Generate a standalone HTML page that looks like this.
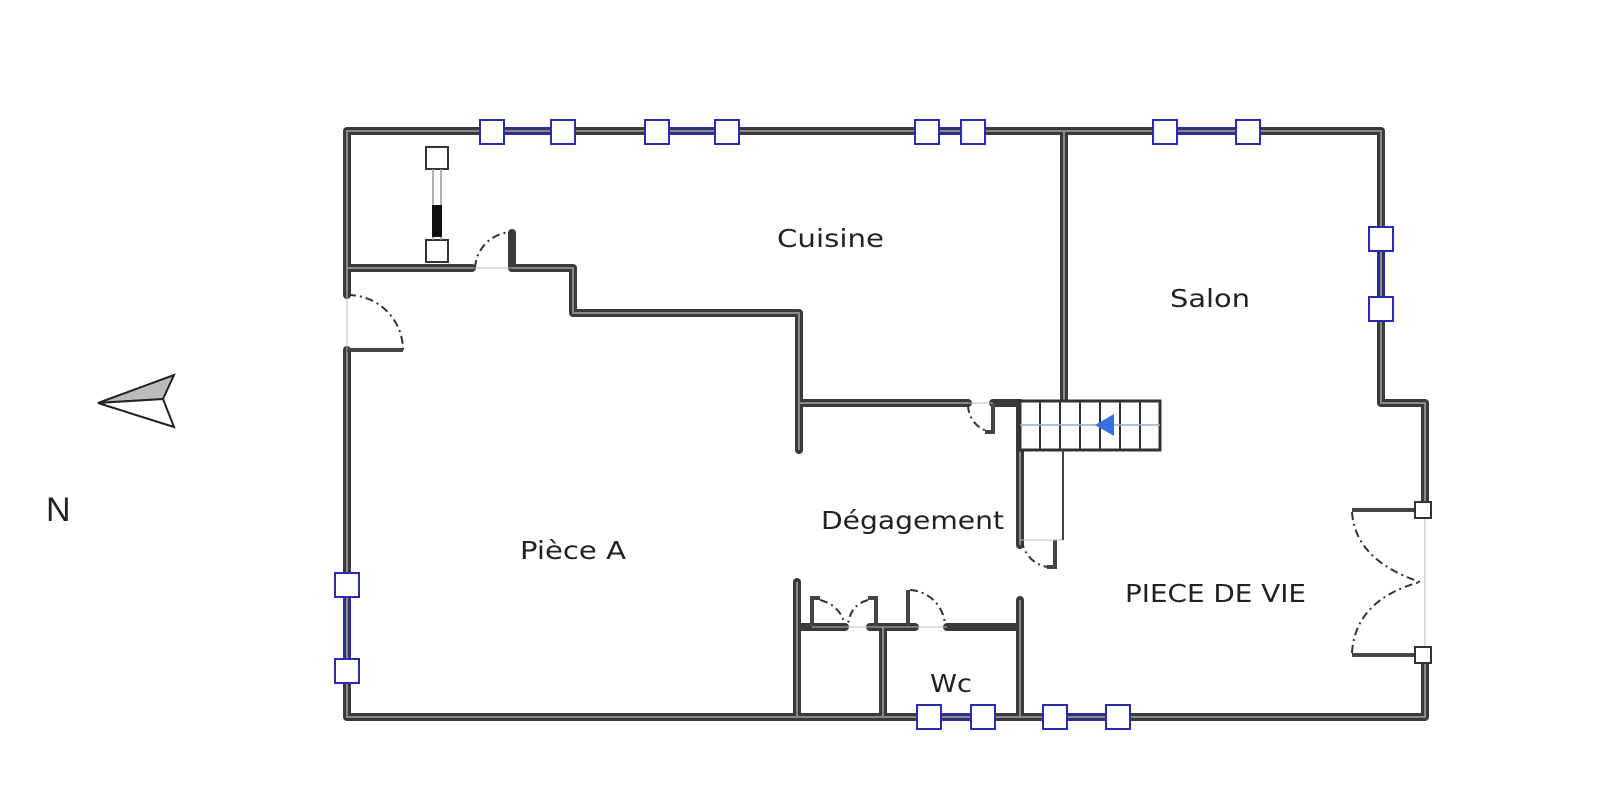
<!DOCTYPE html>
<html><head><meta charset="utf-8"><style>body{margin:0;background:#fff}svg{display:block}</style></head><body>
<svg width="1600" height="797" viewBox="0 0 1600 797" xmlns="http://www.w3.org/2000/svg" font-family="DejaVu Sans, Liberation Sans, sans-serif">
<g fill="none" stroke="#3a3a3a" stroke-width="8" stroke-linecap="round" stroke-linejoin="round">
<path d="M347 295 V131 H1381 V403 H1425 V510"/>
<path d="M347 350 V717 H1425 V655"/>
<path d="M347 268 H472 M512 268 H573 V313 H799 V450"/>
<path d="M799 403 H968 M993 403 H1020"/>
<path d="M1064 131 V403"/>
<path d="M1020 403 V545"/>
<path d="M797 582 V717 M883 627 V717 M1020 600 V717"/>
<path d="M797 627 H845 M870 627 H915 M947 627 H1020"/>
<path d="M512 233 V268"/>
</g>
<g fill="none" stroke="#8a8a8a" stroke-width="2">
<path d="M347 295 V131 H1381 V403 H1425 V510 M347 350 V717 H1425 V655 M347 268 H472 M512 268 H573 V313 H799 V450 M799 403 H968 M1064 131 V403 M1020 403 V545 M797 582 V717 M883 627 V717 M1020 600 V717"/>
</g>
<g stroke="#444" stroke-width="4" fill="none">
<path d="M347 350 H403"/><path d="M993 403 V432 H985"/><path d="M1055 540 V567 H1047"/>
<path d="M812 627 V598 H820"/><path d="M876 627 V598 H868"/><path d="M908 627 V590"/>
<path d="M1352 510 H1420"/><path d="M1352 655 H1420"/>
</g>
<g stroke="#333" stroke-width="2" fill="none" stroke-dasharray="8 4 2 4">
<path d="M348 295 A55 55 0 0 1 403 350"/>
<path d="M475 268 A38 38 0 0 1 512 232"/>
<path d="M968 405 A28 28 0 0 0 990 432"/>
<path d="M1022 540 A30 30 0 0 0 1048 567"/>
<path d="M820 600 Q840 605 845 625 M868 600 Q850 605 848 625"/>
<path d="M910 590 A37 37 0 0 1 945 625"/>
<path d="M1352 512 Q1355 560 1420 582 M1352 653 Q1355 600 1420 582"/>
</g>
<g stroke="#bbb" stroke-width="1"><path d="M347 295 V350 M472 268 H512 M968 403 H993 M1020 540 H1063 M812 627 H947 M1425 510 V655"/></g>
<rect x="1020" y="401" width="140" height="49" fill="#fff" stroke="#333" stroke-width="3"/>
<g stroke="#333" stroke-width="2"><path d="M1040 401V450M1060 401V450M1080 401V450M1100 401V450M1120 401V450M1140 401V450"/></g>
<path d="M1020 425 H1160" stroke="#9ab" stroke-width="1.5"/>
<polygon points="1095,425 1114,414 1114,436" fill="#3b6fd9"/>
<path d="M1063 450 V540" stroke="#444" stroke-width="2"/>
<g fill="none" stroke="#2a2ab0" stroke-width="2">
<path d="M492 128H563M492 134H563M657 128H727M657 134H727M927 128H973M927 134H973M1165 128H1248M1165 134H1248"/>
<path d="M344 585V671M350 585V671M1378 239V309M1384 239V309"/>
<path d="M929 714H983M929 720H983M1055 714H1118M1055 720H1118"/>
</g>
<g fill="#fff" stroke="#2a2ab0" stroke-width="2">
<rect x="480" y="120" width="24" height="24"/><rect x="551" y="120" width="24" height="24"/>
<rect x="645" y="120" width="24" height="24"/><rect x="715" y="120" width="24" height="24"/>
<rect x="915" y="120" width="24" height="24"/><rect x="961" y="120" width="24" height="24"/>
<rect x="1153" y="120" width="24" height="24"/><rect x="1236" y="120" width="24" height="24"/>
<rect x="335" y="573" width="24" height="24"/><rect x="335" y="659" width="24" height="24"/>
<rect x="1369" y="227" width="24" height="24"/><rect x="1369" y="297" width="24" height="24"/>
<rect x="917" y="705" width="24" height="24"/><rect x="971" y="705" width="24" height="24"/>
<rect x="1043" y="705" width="24" height="24"/><rect x="1106" y="705" width="24" height="24"/>
</g>
<g fill="#fff" stroke="#333" stroke-width="2">
<rect x="426" y="147" width="22" height="22"/><rect x="426" y="240" width="22" height="22"/>
<rect x="1415" y="502" width="16" height="16"/><rect x="1415" y="647" width="16" height="16"/>
</g>
<path d="M433 169V240M441 169V240" stroke="#999" stroke-width="1.5"/>
<rect x="432" y="205" width="10" height="32" fill="#111"/>
<polygon points="98,403 174,375 163,399" fill="#bbb" stroke="#222" stroke-width="2"/>
<polygon points="98,403 163,399 174,427" fill="#fff" stroke="#222" stroke-width="2"/>
<g fill="#222" font-size="25">
<text x="46" y="521" font-size="34" font-family="Liberation Sans, sans-serif">N</text>
<text x="777" y="247" textLength="107" lengthAdjust="spacingAndGlyphs">Cuisine</text>
<text x="1170" y="307" textLength="80" lengthAdjust="spacingAndGlyphs">Salon</text>
<text x="821" y="529" textLength="183" lengthAdjust="spacingAndGlyphs">Dégagement</text>
<text x="520" y="559" textLength="106" lengthAdjust="spacingAndGlyphs">Pièce A</text>
<text x="1125" y="602" textLength="181" lengthAdjust="spacingAndGlyphs">PIECE DE VIE</text>
<text x="930" y="692" textLength="42" lengthAdjust="spacingAndGlyphs">Wc</text>
</g>
</svg>
</body></html>
